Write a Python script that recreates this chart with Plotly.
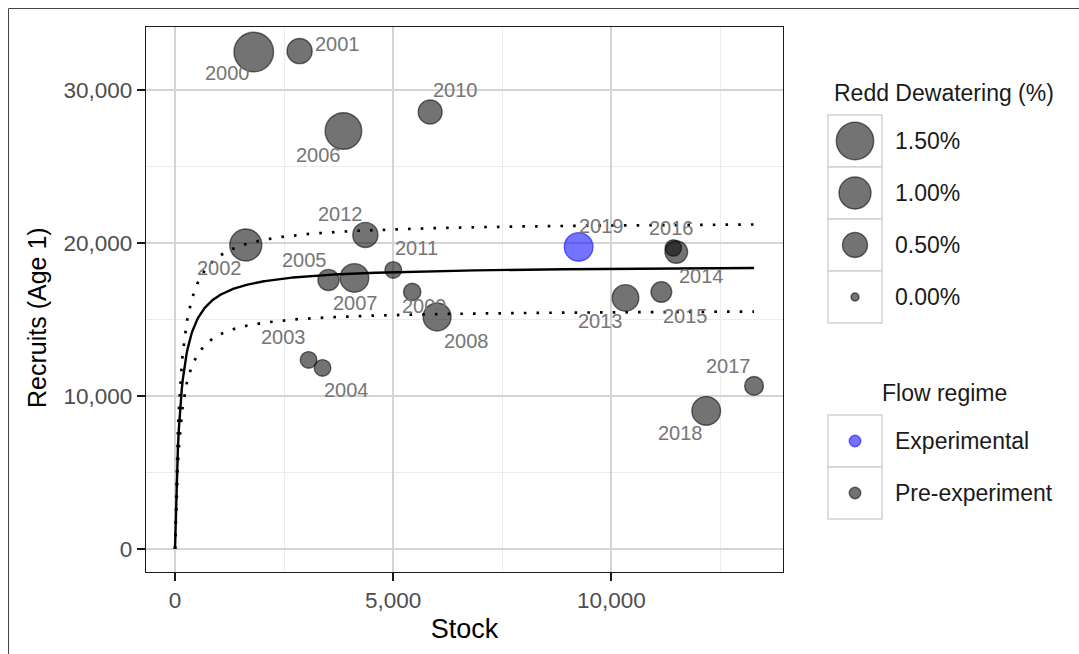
import numpy as np
import plotly.graph_objects as go

# ---- data -------------------------------------------------------------
years = [2000, 2001, 2002, 2003, 2004, 2005, 2006, 2007, 2008, 2009,
         2010, 2011, 2012, 2013, 2014, 2015, 2016, 2017, 2018, 2019]
stock = [1805, 2855, 1622, 3061, 3381, 3518, 3860, 4112, 6007, 5436,
         5848, 5002, 4363, 10325, 11489, 11147, 11421, 13271, 12175, 9251]
recruits = [32484, 32549, 19869, 12353, 11830, 17582, 27320, 17712, 15163, 16797,
            28562, 18235, 20523, 16405, 19412, 16797, 19673, 10654, 9020, 19739]
dewatering = [1.73, 0.51, 1.00, 0.13, 0.13, 0.30, 1.42, 0.74, 0.69, 0.15,
              0.44, 0.13, 0.51, 0.60, 0.37, 0.28, 0.12, 0.20, 0.74, 0.74]
regime = ["Pre-experiment"] * 19 + ["Experimental"]

# Beverton-Holt fit R = a*S / (1 + b*S) with multiplicative bounds
bh_a = 154.4
bh_b = 1 / 120.0
bound_hi = 1.155
bound_lo = 0.845

size_breaks = [1.5, 1.0, 0.5, 0.0]
size_labels = ["1.50%", "1.00%", "0.50%", "0.00%"]
regime_levels = ["Experimental", "Pre-experiment"]

x_ticks = [0, 5000, 10000]
y_ticks = [0, 10000, 20000, 30000]

# ---- styling ----------------------------------------------------------
W, H = 1079, 654
FONT = "Liberation Sans"
ALPHA = 0.55
regime_color = {"Experimental": (0, 0, 255), "Pre-experiment": (0, 0, 0)}
STROKE = 1.4

# label placement around each point (px right, px down)
label_offsets = {
    2000: (-26, 21), 2001: (38, -7), 2002: (-26, 23), 2003: (-25, -23),
    2004: (24, 22), 2005: (-24, -20), 2006: (-25, 24), 2007: (1, 25),
    2008: (29, 24), 2009: (12, 14), 2010: (25, -22), 2011: (23, -22),
    2012: (-25, -21), 2013: (-25, 23), 2014: (25, 24), 2015: (24, 24),
    2016: (-2, -20), 2017: (-26, -20), 2018: (-26, 22), 2019: (23, -21),
}


def rgba(rgb, a):
    return f"rgba({rgb[0]},{rgb[1]},{rgb[2]},{a})"


def size_px(v):
    # area-style size scale: radius grows with sqrt of the value
    r = 4.7 + 12.0 * np.sqrt(v)
    return 2 * r - STROKE


# panel placement (pixels)
pl, pr, pt, pb = 146, 783, 27, 572

fig = go.Figure()

# fitted curve and bounds
s_grid = np.linspace(0, max(stock), 600)
r_fit = bh_a * s_grid / (1 + bh_b * s_grid)
for mult, dash in [(bound_hi, "2.6px,10.1px"), (bound_lo, "2.6px,10.1px"), (1.0, "solid")]:
    fig.add_trace(go.Scatter(
        x=s_grid, y=r_fit * mult, mode="lines",
        line=dict(color="black", width=2.4 if dash == "solid" else 2.7, dash=dash),
        hoverinfo="skip", showlegend=False))

# points, one trace per flow regime
for lvl in ["Pre-experiment", "Experimental"]:
    idx = [i for i, g in enumerate(regime) if g == lvl]
    col = regime_color[lvl]
    fig.add_trace(go.Scatter(
        x=[stock[i] for i in idx], y=[recruits[i] for i in idx],
        mode="markers",
        marker=dict(size=[size_px(dewatering[i]) for i in idx],
                    sizemode="diameter", opacity=1,
                    color=rgba(col, ALPHA),
                    line=dict(color=rgba(col, ALPHA), width=STROKE)),
        text=[str(years[i]) for i in idx],
        showlegend=False))

# year labels
for yr, sx, ry in zip(years, stock, recruits):
    dx, dy = label_offsets[yr]
    fig.add_annotation(x=sx, y=ry, xref="x", yref="y", text=str(yr),
                       showarrow=False, xshift=dx, yshift=-dy,
                       font=dict(family=FONT, size=20, color="#767676"))

# ---- legends, drawn on a pixel-scaled helper axis ----------------------
lx0, lx1 = 828, 882
kx = (lx0 + lx1) / 2
key_h = 52
size_top = 115
flow_top = 415
title_cx = 944
txt_x = 893
box_line = dict(color="#d2d2d2", width=1.5)
LEG_FONT = dict(family=FONT, size=23, color="#1a1a1a")

fig.add_annotation(x=title_cx, y=93, xref="x2", yref="y2", text="Redd Dewatering (%)",
                   showarrow=False, xanchor="center", yanchor="middle", font=LEG_FONT)
for k, (v, lab) in enumerate(zip(size_breaks, size_labels)):
    y0 = size_top + k * key_h
    fig.add_shape(type="rect", xref="x2", yref="y2", x0=lx0, x1=lx1, y0=y0, y1=y0 + key_h,
                  line=box_line, fillcolor="white", layer="below")
    fig.add_annotation(x=txt_x, y=y0 + key_h / 2, xref="x2", yref="y2", text=lab,
                       showarrow=False, xanchor="left", yanchor="middle", font=LEG_FONT)
fig.add_trace(go.Scatter(
    x=[kx] * len(size_breaks),
    y=[size_top + k * key_h + key_h / 2 for k in range(len(size_breaks))],
    xaxis="x2", yaxis="y2", mode="markers",
    marker=dict(size=[size_px(v) for v in size_breaks], opacity=1,
                color=rgba((0, 0, 0), ALPHA),
                line=dict(color=rgba((0, 0, 0), ALPHA), width=STROKE)),
    hoverinfo="skip", showlegend=False))

fig.add_annotation(x=title_cx, y=393, xref="x2", yref="y2", text="Flow regime",
                   showarrow=False, xanchor="center", yanchor="middle", font=LEG_FONT)
for k, lvl in enumerate(regime_levels):
    y0 = flow_top + k * key_h
    fig.add_shape(type="rect", xref="x2", yref="y2", x0=lx0, x1=lx1, y0=y0, y1=y0 + key_h,
                  line=box_line, fillcolor="white", layer="below")
    fig.add_annotation(x=txt_x, y=y0 + key_h / 2, xref="x2", yref="y2", text=lvl,
                       showarrow=False, xanchor="left", yanchor="middle", font=LEG_FONT)
    col = regime_color[lvl]
    fig.add_trace(go.Scatter(
        x=[kx], y=[y0 + key_h / 2], xaxis="x2", yaxis="y2", mode="markers",
        marker=dict(size=11.5, opacity=1, color=rgba(col, ALPHA),
                    line=dict(color=rgba(col, ALPHA), width=STROKE)),
        hoverinfo="skip", showlegend=False))

# outer frame (top and left edges)
fig.add_shape(type="line", xref="paper", yref="paper", x0=8.5 / W, x1=1.0,
              y0=1 - 8.5 / H, y1=1 - 8.5 / H, line=dict(color="#444444", width=1))
fig.add_shape(type="line", xref="paper", yref="paper", x0=8.5 / W, x1=8.5 / W,
              y0=0.0, y1=1 - 8.5 / H, line=dict(color="#444444", width=1))

# y-axis title
fig.add_annotation(x=37 / W, y=1 - 318 / H, xref="paper", yref="paper",
                   text="Recruits (Age 1)", textangle=-90, showarrow=False,
                   xanchor="center", yanchor="middle",
                   font=dict(family=FONT, size=25, color="black"))

axis_common = dict(
    showline=True, mirror=True, linecolor="#1a1a1a", linewidth=1.3,
    ticks="outside", ticklen=8, tickwidth=2, tickcolor="#1a1a1a",
    showgrid=True, gridcolor="#d4d4d4", gridwidth=2, zeroline=False,
    tickfont=dict(family=FONT, size=22.5, color="#4d4d4d"),
    separatethousands=True, tickformat=",d",
)

fig.update_layout(
    width=W, height=H,
    margin=dict(l=0, r=0, t=0, b=0),
    paper_bgcolor="white", plot_bgcolor="white",
    showlegend=False,
    xaxis=dict(
        domain=[pl / W, pr / W], range=[-665, 13935],
        tickvals=x_ticks,
        minor=dict(dtick=2500, tick0=0, showgrid=True, gridcolor="#ececec", gridwidth=1, ticks=""),
        title=dict(text="Stock", font=dict(family=FONT, size=27, color="black"), standoff=6),
        anchor="y", **axis_common),
    yaxis=dict(
        domain=[1 - pb / H, 1 - pt / H], range=[-1510, 34120],
        tickvals=y_ticks,
        minor=dict(dtick=5000, tick0=0, showgrid=True, gridcolor="#ececec", gridwidth=1, ticks=""),
        anchor="x", **axis_common),
    xaxis2=dict(domain=[800 / W, 1.0], range=[800, W], visible=False, anchor="y2"),
    yaxis2=dict(domain=[0, 1], range=[H, 0], visible=False, anchor="x2"),
)

fig.write_html("out.html")
